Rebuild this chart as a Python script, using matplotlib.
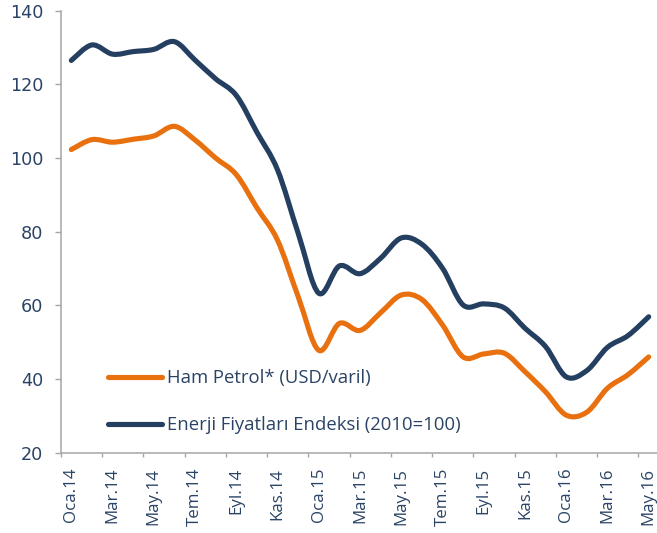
import numpy as np
import matplotlib
matplotlib.use("Agg")
import matplotlib.pyplot as plt
from matplotlib.path import Path
from matplotlib.patches import PathPatch
from matplotlib.lines import Line2D

# aylar (Oca.14 - May.16)
months = ["Oca.14", "Şub.14", "Mar.14", "Nis.14", "May.14", "Haz.14", "Tem.14", "Ağu.14",
          "Eyl.14", "Eki.14", "Kas.14", "Ara.14", "Oca.15", "Şub.15", "Mar.15", "Nis.15",
          "May.15", "Haz.15", "Tem.15", "Ağu.15", "Eyl.15", "Eki.15", "Kas.15", "Ara.15",
          "Oca.16", "Şub.16", "Mar.16", "Nis.16", "May.16"]

ham_petrol = [102.3, 105.0, 104.3, 105.1, 106.0, 108.6, 104.9, 100.0, 95.5, 86.5,
              77.7, 62.4, 47.8, 55.1, 53.2, 58.0, 62.8, 61.6, 54.7, 46.0,
              46.8, 47.0, 42.0, 36.5, 30.2, 31.0, 37.5, 41.2, 46.0]

enerji_endeksi = [126.5, 130.7, 128.2, 128.9, 129.5, 131.6, 126.6, 121.5, 117.0, 107.0,
                  96.8, 79.6, 63.3, 70.7, 68.6, 72.8, 78.3, 76.6, 70.1, 60.1,
                  60.4, 59.3, 53.8, 48.8, 40.6, 42.3, 48.6, 51.8, 56.9]

labels = ["Ham Petrol* (USD/varil)", "Enerji Fiyatları Endeksi (2010=100)"]

ORANGE = "#E8700E"
NAVY = "#243F60"
TEXT = "#2B4466"
AXIS = "#A6A6A6"

plt.rcParams['font.family'] = ['Open Sans', 'DejaVu Sans']


def smooth_path(xs, ys):
    # excel tarzi yumusatilmis cizgi (catmull-rom -> bezier)
    pts = np.column_stack([xs, ys]).astype(float)
    verts = [pts[0]]
    codes = [Path.MOVETO]
    n = len(pts)
    for i in range(n - 1):
        p0 = pts[max(i - 1, 0)]
        p1 = pts[i]
        p2 = pts[i + 1]
        p3 = pts[min(i + 2, n - 1)]
        c1 = p1 + (p2 - p0) / 6.0
        c2 = p2 - (p3 - p1) / 6.0
        verts += [c1, c2, p2]
        codes += [Path.CURVE4] * 3
    return Path(verts, codes)


fig = plt.figure(figsize=(6.57, 5.33), dpi=100)
W, H = 657, 533
ax = fig.add_axes([61 / W, 80.3 / H, 598 / W, 442 / H])

x = np.arange(len(months))
for vals, col in [(enerji_endeksi, NAVY), (ham_petrol, ORANGE)]:
    p = smooth_path(x, vals)
    ax.add_patch(PathPatch(p, fill=False, edgecolor=col, lw=3.7,
                           capstyle='round', joinstyle='round', transform=ax.transData))

ax.set_xlim(-0.5, len(months) - 0.5)
ax.set_ylim(20, 140)

for s in ['top', 'right']:
    ax.spines[s].set_visible(False)
for s in ['left', 'bottom']:
    ax.spines[s].set_color(AXIS)
    ax.spines[s].set_linewidth(1.1)

ax.set_yticks(np.arange(20, 141, 20))
ax.tick_params(axis='y', colors=AXIS, labelcolor=TEXT, length=4.3, width=1.0, pad=8.4)
for t in ax.get_yticklabels():
    t.set_family('DejaVu Sans')
    t.set_fontsize(12.7)

# tik cizgileri kategori sinirlarinda, etiketler kategori ortasinda
ax.set_xticks(np.arange(-0.5, len(months), 2))
ax.set_xticklabels([])
ax.tick_params(axis='x', which='major', colors=AXIS, length=3, width=1.0)
ax.set_xticks(x[::2], minor=True)
ax.set_xticklabels(months[::2], minor=True, rotation=90)
ax.tick_params(axis='x', which='minor', length=0, labelcolor=TEXT, labelsize=12.2, pad=10.8)

handles = [Line2D([], [], color=ORANGE, lw=3.7, solid_capstyle='round'),
           Line2D([], [], color=NAVY, lw=3.7, solid_capstyle='round')]
leg = fig.legend(handles, labels, loc='upper left', bbox_to_anchor=(108 / W, 1 - 369.5 / H),
                 frameon=False, fontsize=13.3, handlelength=2.95, handletextpad=0.25,
                 labelspacing=1.56, borderpad=0, borderaxespad=0)
for t in leg.get_texts():
    t.set_color(TEXT)

fig.savefig("out.png", dpi=100)
